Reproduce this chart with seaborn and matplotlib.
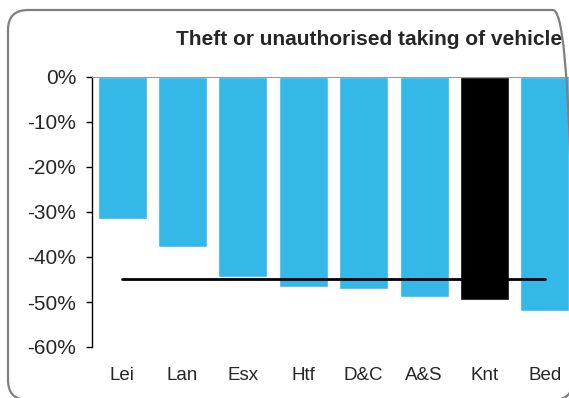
import matplotlib
matplotlib.use("Agg")
import matplotlib.pyplot as plt
import seaborn as sns
import numpy as np
import pandas as pd
from matplotlib.patches import FancyBboxPatch

# ---- data ----
categories = ["Lei", "Lan", "Esx", "Htf", "D&C", "A&S", "Knt", "Bed"]
values = [-31.5, -37.7, -44.5, -46.6, -47.1, -48.8, -49.5, -51.9]
average = [-44.8, -44.8, -44.8, -44.8, -44.8, -44.8, -44.8, -44.8]
ytick_values = [0, -10, -20, -30, -40, -50, -60]
ytick_labels = ["0%", "-10%", "-20%", "-30%", "-40%", "-50%", "-60%"]
title = "Theft or unauthorised taking of vehicle"
highlight = "Knt"

BLUE = "#33B8E8"
colors = ["#000000" if c == highlight else BLUE for c in categories]

sns.set_style("white")
plt.rcParams["font.family"] = ["Liberation Sans", "DejaVu Sans"]

W, H = 569, 398
fig = plt.figure(figsize=(W / 100, H / 100), dpi=100)
ax = fig.add_axes([92 / W, (H - 347) / H, (575 - 92) / W, 270 / H])

df = pd.DataFrame({"cat": categories, "val": values})
sns.barplot(data=df, x="cat", y="val", hue="cat", palette=colors, order=categories,
            hue_order=categories, width=0.81, saturation=1, legend=False, ax=ax)

sns.lineplot(x=np.arange(len(categories)), y=average, color="black", lw=2.0,
             ax=ax, zorder=6)

ax.axhline(0, color="#808080", lw=1.2, zorder=5)
ax.set_xlim(-0.5, len(categories) - 0.5)
ax.set_ylim(-60, 0)
ax.set_yticks(ytick_values)
ax.set_yticklabels(ytick_labels, fontsize=15)
ax.set_xticks(range(len(categories)))
ax.set_xticklabels(categories, fontsize=13.5)
ax.set_xlabel("")
ax.set_ylabel("")
ax.tick_params(axis="y", direction="out", length=4.3, width=1, color="black", pad=7, left=True)
ax.tick_params(axis="x", length=0, pad=14.5)
for s in ["top", "right", "bottom"]:
    ax.spines[s].set_visible(False)
ax.spines["left"].set_color("black")
ax.spines["left"].set_linewidth(1)
ax.grid(False)

fig.text(562 / W, (H - 45) / H, title, ha="right", va="baseline",
         fontsize=15, fontweight="bold")

border = FancyBboxPatch((0.08, -0.02), 5.65, 3.90,
                        boxstyle="round,pad=0,rounding_size=0.2",
                        transform=fig.dpi_scale_trans, fill=False,
                        edgecolor="#7f7f7f", lw=1.6, clip_on=False)
fig.add_artist(border)

fig.savefig("out.png", dpi=100)
